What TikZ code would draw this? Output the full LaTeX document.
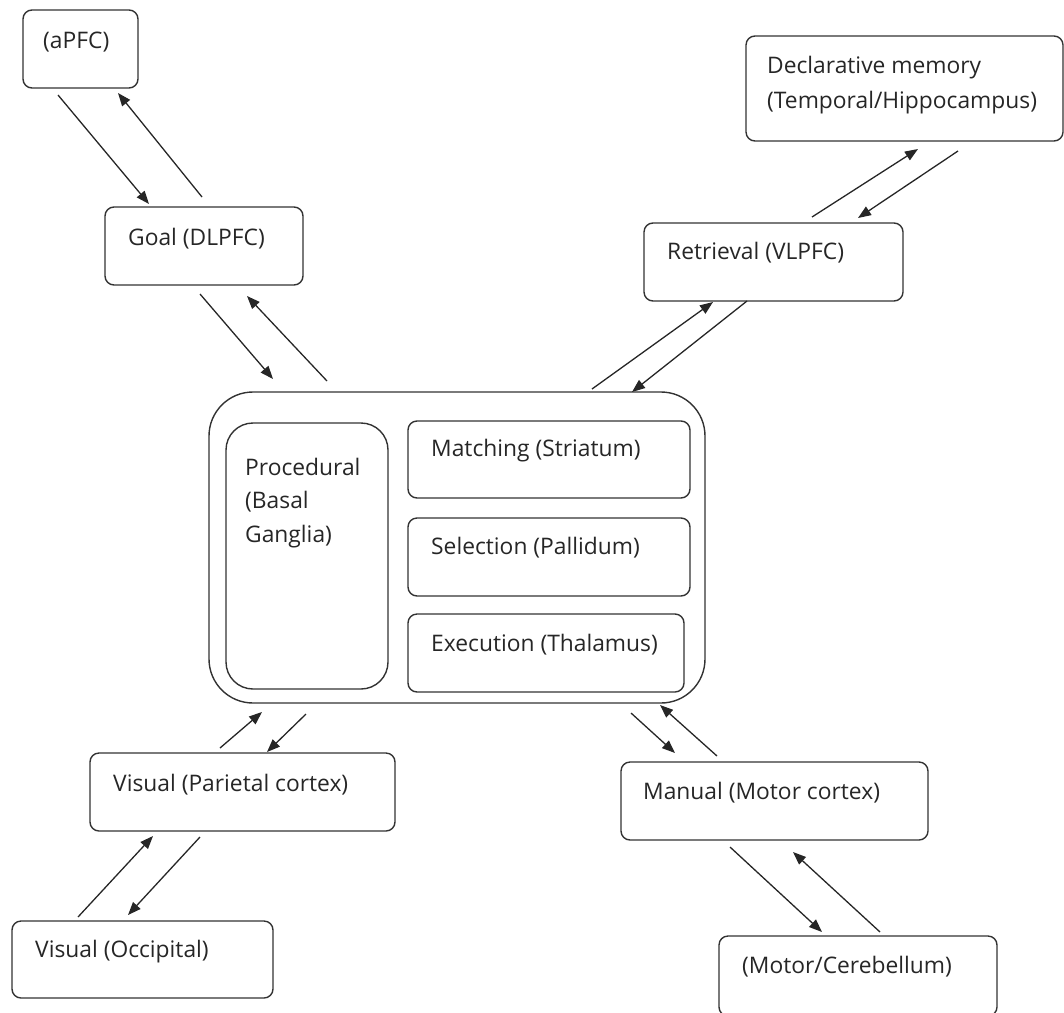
\documentclass[tikz,border=0pt]{standalone}
\usepackage{fontspec}
\setmainfont{Open Sans}
\usetikzlibrary{arrows.meta}
\tikzset{
  box/.style={draw=black!80, line width=1.4pt, rounded corners=9pt, anchor=north west, inner sep=0pt, outer sep=0pt},
  txt/.style={anchor=west, inner sep=0pt, font=\fontsize{22.8}{34}\selectfont, text=black!85},
  conn/.style={draw=black!85, line width=1.3pt, -{Triangle[length=13pt,width=10pt]}}
}
\begin{document}
\begin{tikzpicture}[x=1pt,y=-1pt]
\useasboundingbox (0,0) rectangle (1064,1012);
% boxes
\node[box, minimum width=115, minimum height=78] (apfc) at (23,10) {};
\node[txt] (apfct) at (43,42) {(aPFC)};
\node[box, minimum width=198, minimum height=78] (goal) at (105,207) {};
\node[txt] (goalt) at (128,239) {Goal (DLPFC)};
\node[box, minimum width=317, minimum height=105] (decl) at (746,36) {};
\node[txt] (declt1) at (767,68) {Declarative memory};
\node[txt] (declt2) at (767,103) {(Temporal/Hippocampus)};
\node[box, minimum width=259, minimum height=78] (retr) at (644,223) {};
\node[txt] (retrt) at (667,253) {Retrieval (VLPFC)};
\node[box, rounded corners=44pt, minimum width=496, minimum height=311] (big) at (209,392) {};
\node[box, rounded corners=27pt, minimum width=162, minimum height=266] (proc) at (226,423) {};
\node[txt] (proct1) at (245,467) {Procedural};
\node[txt] (proct2) at (245,502) {(Basal};
\node[txt] (proct3) at (245,537) {Ganglia)};
\node[box, minimum width=282, minimum height=77] (match) at (408,421) {};
\node[txt] (matcht) at (431,451) {Matching (Striatum)};
\node[box, minimum width=282, minimum height=78] (sel) at (408,518) {};
\node[txt] (selt) at (431,548) {Selection (Pallidum)};
\node[box, minimum width=276, minimum height=78] (exec) at (408,614) {};
\node[txt] (exect) at (431,645) {Execution (Thalamus)};
\node[box, minimum width=305, minimum height=78] (par) at (90,753) {};
\node[txt] (part) at (113,785) {Visual (Parietal cortex)};
\node[box, minimum width=261, minimum height=77] (occ) at (12,921) {};
\node[txt] (occt) at (35,952) {Visual (Occipital)};
\node[box, minimum width=307, minimum height=78] (man) at (621,762) {};
\node[txt] (mant) at (643,793) {Manual (Motor cortex)};
\node[box, minimum width=278, minimum height=80] (cer) at (719,936) {};
\node[txt] (cert) at (742,967) {(Motor/Cerebellum)};
% connector ends
\coordinate (a1) at (58,95);   \coordinate (a2) at (149,204);
\coordinate (a3) at (202,197); \coordinate (a4) at (118,93);
\coordinate (g1) at (200,294); \coordinate (g2) at (273,379);
\coordinate (g3) at (327,381); \coordinate (g4) at (247,296);
\coordinate (r1) at (592,389); \coordinate (r2) at (713,302);
\coordinate (r3) at (747,301); \coordinate (r4) at (632,392);
\coordinate (d1) at (812,217); \coordinate (d2) at (918,149);
\coordinate (d3) at (958,151); \coordinate (d4) at (858,218);
\coordinate (p1) at (220,748); \coordinate (p2) at (262,712);
\coordinate (p3) at (306,714); \coordinate (p4) at (267,752);
\coordinate (o1) at (78,917);  \coordinate (o2) at (153,836);
\coordinate (o3) at (200,837); \coordinate (o4) at (128,915);
\coordinate (m1) at (631,713); \coordinate (m2) at (675,753);
\coordinate (m3) at (717,756); \coordinate (m4) at (660,705);
\coordinate (c1) at (730,847); \coordinate (c2) at (822,932);
\coordinate (c3) at (880,932); \coordinate (c4) at (793,852);
% connectors
\draw[conn] (a1) -- (a2);
\draw[conn] (a3) -- (a4);
\draw[conn] (g1) -- (g2);
\draw[conn] (g3) -- (g4);
\draw[conn] (r1) -- (r2);
\draw[conn] (r3) -- (r4);
\draw[conn] (d1) -- (d2);
\draw[conn] (d3) -- (d4);
\draw[conn] (p1) -- (p2);
\draw[conn] (p3) -- (p4);
\draw[conn] (o1) -- (o2);
\draw[conn] (o3) -- (o4);
\draw[conn] (m1) -- (m2);
\draw[conn] (m3) -- (m4);
\draw[conn] (c1) -- (c2);
\draw[conn] (c3) -- (c4);
\end{tikzpicture}
\end{document}
